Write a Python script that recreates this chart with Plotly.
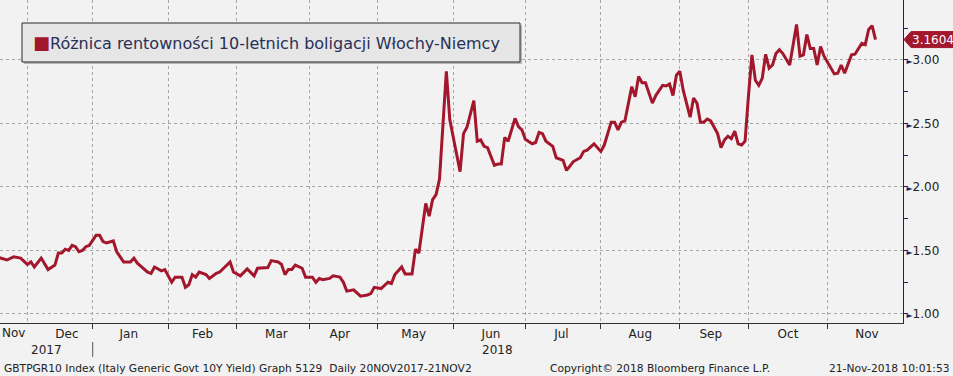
import plotly.graph_objects as go

# ---------------- data ----------------
dates = [
    "2017-11-20", "2017-11-21", "2017-11-23", "2017-11-27", "2017-11-29",
    "2017-12-01", "2017-12-04", "2017-12-05", "2017-12-07", "2017-12-11",
    "2017-12-13", "2017-12-14", "2017-12-15", "2017-12-18", "2017-12-19",
    "2017-12-20", "2017-12-21", "2017-12-22", "2017-12-27", "2017-12-28",
    "2017-12-29", "2018-01-03", "2018-01-04", "2018-01-05", "2018-01-08",
    "2018-01-10", "2018-01-11", "2018-01-15", "2018-01-17", "2018-01-18",
    "2018-01-19", "2018-01-24", "2018-01-25", "2018-01-26", "2018-01-30",
    "2018-01-31", "2018-02-02", "2018-02-05", "2018-02-07", "2018-02-08",
    "2018-02-09", "2018-02-12", "2018-02-13", "2018-02-14", "2018-02-16",
    "2018-02-19", "2018-02-21", "2018-02-22", "2018-02-27", "2018-02-28",
    "2018-03-02", "2018-03-06", "2018-03-08", "2018-03-09", "2018-03-13",
    "2018-03-14", "2018-03-15", "2018-03-19", "2018-03-20", "2018-03-21",
    "2018-03-22", "2018-03-23", "2018-03-26", "2018-03-28", "2018-03-29",
    "2018-04-04", "2018-04-05", "2018-04-06", "2018-04-09", "2018-04-11",
    "2018-04-12", "2018-04-16", "2018-04-17", "2018-04-18", "2018-04-20",
    "2018-04-24", "2018-04-26", "2018-04-27", "2018-04-30", "2018-05-03",
    "2018-05-07", "2018-05-08", "2018-05-09", "2018-05-11", "2018-05-14",
    "2018-05-16", "2018-05-17", "2018-05-18", "2018-05-22", "2018-05-23",
    "2018-05-24", "2018-05-25", "2018-05-28", "2018-05-30", "2018-05-31",
    "2018-06-05", "2018-06-06", "2018-06-07", "2018-06-11", "2018-06-12",
    "2018-06-13", "2018-06-14", "2018-06-15", "2018-06-19", "2018-06-20",
    "2018-06-21", "2018-06-22", "2018-06-25", "2018-06-27", "2018-06-28",
    "2018-06-29", "2018-07-02", "2018-07-04", "2018-07-05", "2018-07-06",
    "2018-07-09", "2018-07-10", "2018-07-12", "2018-07-13", "2018-07-17",
    "2018-07-18", "2018-07-19", "2018-07-20", "2018-07-24", "2018-07-25",
    "2018-07-26", "2018-07-30", "2018-08-01", "2018-08-02", "2018-08-06",
    "2018-08-07", "2018-08-08", "2018-08-09", "2018-08-10", "2018-08-14",
    "2018-08-15", "2018-08-16", "2018-08-17", "2018-08-20", "2018-08-22",
    "2018-08-23", "2018-08-24", "2018-08-27", "2018-08-28", "2018-08-29",
    "2018-08-30", "2018-08-31", "2018-09-03", "2018-09-04", "2018-09-06",
    "2018-09-07", "2018-09-10", "2018-09-11", "2018-09-12", "2018-09-13",
    "2018-09-14", "2018-09-18", "2018-09-19", "2018-09-20", "2018-09-21",
    "2018-09-24", "2018-09-25", "2018-09-26", "2018-09-27", "2018-09-28",
    "2018-10-01", "2018-10-02", "2018-10-03", "2018-10-04", "2018-10-05",
    "2018-10-08", "2018-10-09", "2018-10-10", "2018-10-11", "2018-10-12",
    "2018-10-15", "2018-10-17", "2018-10-19", "2018-10-22", "2018-10-23",
    "2018-10-24", "2018-10-25", "2018-10-26", "2018-10-29", "2018-10-30",
    "2018-10-31", "2018-11-05", "2018-11-06", "2018-11-07", "2018-11-08",
    "2018-11-09", "2018-11-12", "2018-11-13", "2018-11-15", "2018-11-16",
    "2018-11-19", "2018-11-20", "2018-11-21",
]

spread = [
    1.45, 1.44, 1.425, 1.45, 1.44,
    1.39, 1.41, 1.37, 1.44, 1.35,
    1.385, 1.48, 1.48, 1.51, 1.50,
    1.54, 1.53, 1.49, 1.50, 1.53,
    1.54, 1.62, 1.62, 1.57, 1.56,
    1.575, 1.49, 1.41, 1.41, 1.44,
    1.40, 1.33, 1.32, 1.37, 1.34,
    1.35, 1.25, 1.29, 1.29, 1.21,
    1.23, 1.31, 1.29, 1.33, 1.31,
    1.28, 1.32, 1.33, 1.41, 1.33,
    1.30, 1.355, 1.30, 1.36, 1.365,
    1.365, 1.42, 1.41, 1.39, 1.31,
    1.35, 1.35, 1.385, 1.36, 1.29,
    1.29, 1.25, 1.28, 1.27, 1.28,
    1.30, 1.29, 1.25, 1.18, 1.19,
    1.14, 1.15, 1.16, 1.21, 1.20,
    1.25, 1.24, 1.31, 1.37, 1.315,
    1.315, 1.51, 1.48, 1.87, 1.77,
    1.90, 1.94, 2.06, 2.91, 2.53,
    2.12, 2.42, 2.47, 2.68, 2.36,
    2.37, 2.32, 2.31, 2.17, 2.18,
    2.18, 2.39, 2.36, 2.54, 2.475,
    2.45, 2.375, 2.34, 2.35, 2.43,
    2.42, 2.36, 2.32, 2.23, 2.21,
    2.13, 2.17, 2.20, 2.23, 2.28,
    2.29, 2.34, 2.28, 2.33, 2.51,
    2.51, 2.45, 2.51, 2.52, 2.79,
    2.71, 2.87, 2.82, 2.82, 2.66,
    2.72, 2.76, 2.80, 2.795, 2.81,
    2.72, 2.88, 2.91, 2.76, 2.55,
    2.70, 2.66, 2.51, 2.51, 2.535,
    2.52, 2.42, 2.31, 2.37, 2.40,
    2.38, 2.44, 2.34, 2.33, 2.36,
    2.72, 3.04, 2.84, 2.80, 2.855,
    3.045, 2.935, 2.96, 3.05, 3.08,
    3.05, 2.96, 3.28, 3.03, 3.04,
    3.20, 3.09, 3.09, 2.96, 3.105,
    3.03, 2.89, 2.895, 2.96, 2.895,
    2.96, 3.04, 3.045, 3.13, 3.12,
    3.24, 3.27, 3.1604,
]

holidays = ["2017-12-25", "2017-12-26", "2018-01-01", "2018-03-30", "2018-04-02", "2018-05-01"]

y_tickvals = [1.0, 1.5, 2.0, 2.5, 3.0]
y_ticktext = ["1.00", "1.50", "2.00", "2.50", "3.00"]

series_name = "Różnica rentowności 10-letnich boligacji Włochy-Niemcy"
last_value_text = "3.1604"
footer_left = "GBTPGR10 Index (Italy Generic Govt 10Y Yield) Graph 5129\u00a0\u00a0Daily 20NOV2017-21NOV2"
footer_mid = "Copyright© 2018 Bloomberg Finance L.P."
footer_right = "21-Nov-2018 10:01:53"

# ---------------- styling ----------------
W, H = 953, 376
ML, MR, MT, MB = 0, 50, 0, 53
PW, PH = W - ML - MR, H - MT - MB
RED = "#a3172d"
NAVY = "#1c1f5c"
BG = "#f2f2f2"
GRID = "#a6a6a6"
FONT = "DejaVu Sans"


def px(x):
    return x / PW


def py(y):
    return 1 - y / PH


fig = go.Figure()
fig.add_trace(go.Scatter(
    x=dates, y=spread, mode="lines",
    line=dict(color=RED, width=3),
    showlegend=False, hoverinfo="skip",
))

tri = "<span style='color:%s;font-size:8px'>►</span>" % NAVY
fig.update_layout(
    width=W, height=H,
    margin=dict(l=ML, r=MR, t=MT, b=MB),
    paper_bgcolor=BG, plot_bgcolor=BG,
    font=dict(family=FONT, color="#222222", size=12),
    xaxis=dict(
        type="date",
        range=["2017-11-21", "2018-12-01"],
        rangebreaks=[dict(bounds=["sat", "mon"]), dict(values=holidays)],
        tickmode="linear", tick0="2017-11-01", dtick="M1",
        tickformat="%b", ticklabelmode="period",
        ticks="outside", ticklen=5, tickcolor="#333333",
        ticklabelstandoff=-5,
        showline=True, linecolor="#333333", linewidth=1,
        showgrid=True, gridcolor=GRID, griddash="dot", gridwidth=1,
        zeroline=False, tickfont=dict(size=12, color="#222222"),
    ),
    yaxis=dict(
        side="right",
        range=[0.929, 3.472],
        tickmode="array", tickvals=y_tickvals,
        ticktext=[tri + t for t in y_ticktext],
        ticks="", ticklabelstandoff=0,
        showline=True, linecolor=NAVY, linewidth=1,
        showgrid=True, gridcolor=GRID, griddash="dot", gridwidth=1,
        zeroline=False, tickfont=dict(size=12, color="#222222"),
        minor=dict(tick0=1, dtick=0.25, ticks="outside", ticklen=4,
                   tickcolor=NAVY, showgrid=False),
    ),
)

# legend box (with a faint shadow)
fig.add_shape(type="rect", xref="paper", yref="paper",
              x0=px(24), x1=px(522), y0=py(64), y1=py(25),
              fillcolor="#b8b8b8", line=dict(width=0), layer="above")
fig.add_shape(type="rect", xref="paper", yref="paper",
              x0=px(22), x1=px(520), y0=py(62), y1=py(23),
              fillcolor="#e6e6e6", line=dict(color="#2a2a2a", width=1), layer="above")
fig.add_annotation(xref="paper", yref="paper", x=px(31), y=py(43),
                   xanchor="left", yanchor="middle", showarrow=False,
                   text="<span style='color:%s;font-size:18px'>■</span>%s" % (RED, series_name),
                   font=dict(size=16, color="#283058", family=FONT))

# last value tag
fig.add_shape(type="path", xref="paper", yref="y",
              xsizemode="pixel", ysizemode="pixel",
              xanchor=1, yanchor=spread[-1],
              path="M 1 0 L 8 8 L 50 8 L 50 -8 L 8 -8 Z",
              fillcolor=RED, line=dict(color=RED, width=1), layer="above")
fig.add_annotation(xref="paper", yref="y", x=1, y=spread[-1], xshift=7,
                   xanchor="left", yanchor="middle", showarrow=False,
                   text=last_value_text, font=dict(size=12, color="white", family=FONT))

# first partial-month label and year labels
fig.add_annotation(xref="paper", yref="paper", x=px(13), y=py(333),
                   xanchor="center", yanchor="middle", showarrow=False,
                   text="Nov", font=dict(size=12, color="#222222"))
fig.add_annotation(xref="paper", yref="paper", x=px(46.5), y=py(350),
                   xanchor="center", yanchor="middle", showarrow=False,
                   text="2017", font=dict(size=12, color="#222222"))
fig.add_annotation(xref="paper", yref="paper", x=px(498), y=py(350),
                   xanchor="center", yanchor="middle", showarrow=False,
                   text="2018", font=dict(size=12, color="#222222"))
fig.add_shape(type="line", xref="x", yref="paper", x0="2018-01-02", x1="2018-01-02",
              y0=py(342), y1=py(357), line=dict(color="#555555", width=1))

# footer
for txt, x, anchor in [(footer_left, 2, "left"), (footer_mid, 548, "left"), (footer_right, 951, "right")]:
    fig.add_annotation(xref="paper", yref="paper", x=px(x), y=py(368),
                       xanchor=anchor, yanchor="middle", showarrow=False,
                       text=txt, font=dict(size=10.7, color="#222222", family=FONT))

fig.write_html("out.html", config={"displayModeBar": False},
               post_script="document.body.style.margin='0';")
